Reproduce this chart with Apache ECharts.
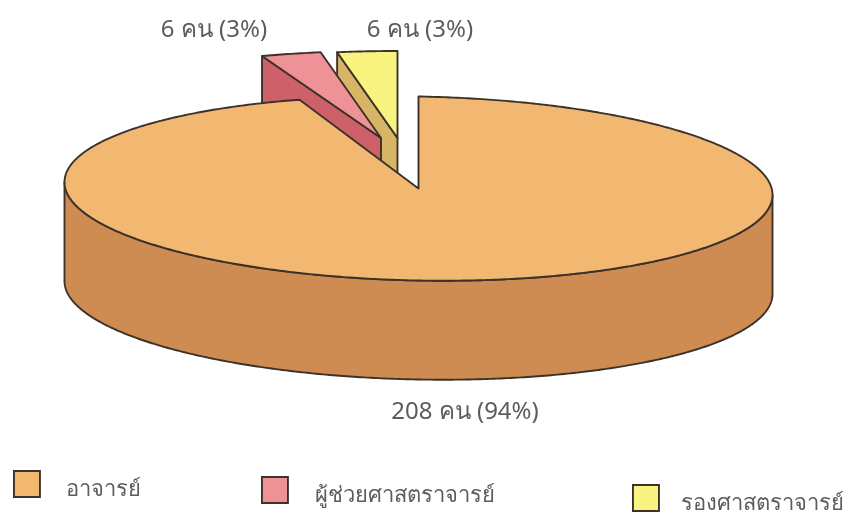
<!DOCTYPE html>
<html><head><meta charset="utf-8">
<style>html,body{margin:0;padding:0;background:#fff}#c{width:852px;height:515px}</style>
<script src="https://cdn.jsdelivr.net/npm/echarts@6/dist/echarts.min.js"></script>
</head><body><div id="c"></div>
<script>
const categories = ['อาจารย์', 'ผู้ช่วยศาสตราจารย์', 'รองศาสตราจารย์'];
const counts = [208, 6, 6];
const percents = [94, 3, 3];
const unit = 'คน';

const looks = [
  {top:'#F2B871', side:'#CE8B52', cx:418.5, cy:188.5, ry:92, lx:465, ly:412, lg:[13,470], gap:21},
  {top:'#EE9297', side:'#CD6068', cx:381, cy:138, ry:87, lx:214, ly:30, lg:[261,476], gap:22},
  {top:'#F8F47F', side:'#D8B566', cx:397.5, cy:138, ry:87, lx:420, ly:30, lg:[632,484], gap:17}
];
const RX = 354, DEPTH = 99, TILT = 0.018, INK = '#3d322a';
const FONT = '"Noto Sans","Open Sans",sans-serif';
const total = counts.reduce((a,b)=>a+b,0);

function makeRender(i){
  const L = looks[i];
  const before = counts.slice(0,i).reduce((a,b)=>a+b,0);
  const a0 = before/total*Math.PI*2;
  return function(params, api){
    const a1 = a0 + api.value(0)/total*Math.PI*2;
    const pt = (a,d)=>{
      const x = L.cx + RX*Math.sin(a);
      return [x, L.cy - L.ry*Math.cos(a) + (i===0?(x-L.cx)*TILT:0) + d];
    };
    const arc = (s,e,d)=>{
      const n = Math.max(2,Math.ceil(Math.abs(e-s)/0.01)), out=[];
      for(let k=0;k<=n;k++) out.push(pt(s+(e-s)*k/n,d));
      return out;
    };
    const apex = d=>[L.cx, L.cy+d];
    const children = [];
    const face = (points,fill)=>children.push({type:'polygon',shape:{points},
      style:{fill,stroke:INK,lineWidth:1.9,lineJoin:'round'}});
    // outer wall: the part of the rim that faces the viewer
    const s = Math.max(a0,Math.PI/2), e = Math.min(a1,Math.PI*1.5);
    if(e>s) face(arc(s,e,0).concat(arc(e,s,DEPTH)),L.side);
    // cut face at the slice's leading edge
    if(a0>0) face([apex(0),pt(a0,0),pt(a0,DEPTH),apex(DEPTH)],L.side);
    // top face
    face([apex(0)].concat(arc(a0,a1,0)),L.top);
    children.push({type:'text',style:{text:counts[i]+' '+unit+' ('+percents[i]+'%)',
      x:L.lx,y:L.ly,align:'center',verticalAlign:'middle',fill:'#5c5c5c',
      font:'400 24px '+FONT}});
    return {type:'group',children};
  };
}

const drawOrder = [2,1,0];
const option = {
  backgroundColor:'#fff',
  animation:false,
  legend: categories.map((name,i)=>({
    data:[name], left:looks[i].lg[0], top:looks[i].lg[1], padding:0,
    itemWidth:26, itemHeight:26, itemGap:0, icon:'rect', selectedMode:false,
    formatter:'{t|{name}}',
    textStyle:{fontSize:22,color:'#5c5c5c',fontFamily:FONT,
      rich:{t:{fontSize:22,color:'#5c5c5c',fontFamily:FONT,padding:[12,0,0,looks[i].gap]}}},
    itemStyle:{color:looks[i].top,borderColor:INK,borderWidth:1.9}
  })),
  series: drawOrder.map(i=>({
    type:'custom', name:categories[i], coordinateSystem:'none', silent:true,
    itemStyle:{color:looks[i].top},
    renderItem:makeRender(i), data:[[counts[i]]]
  }))
};
const chart = echarts.init(document.getElementById('c'),null,{renderer:'canvas'});
chart.setOption(option);
</script></body></html>
